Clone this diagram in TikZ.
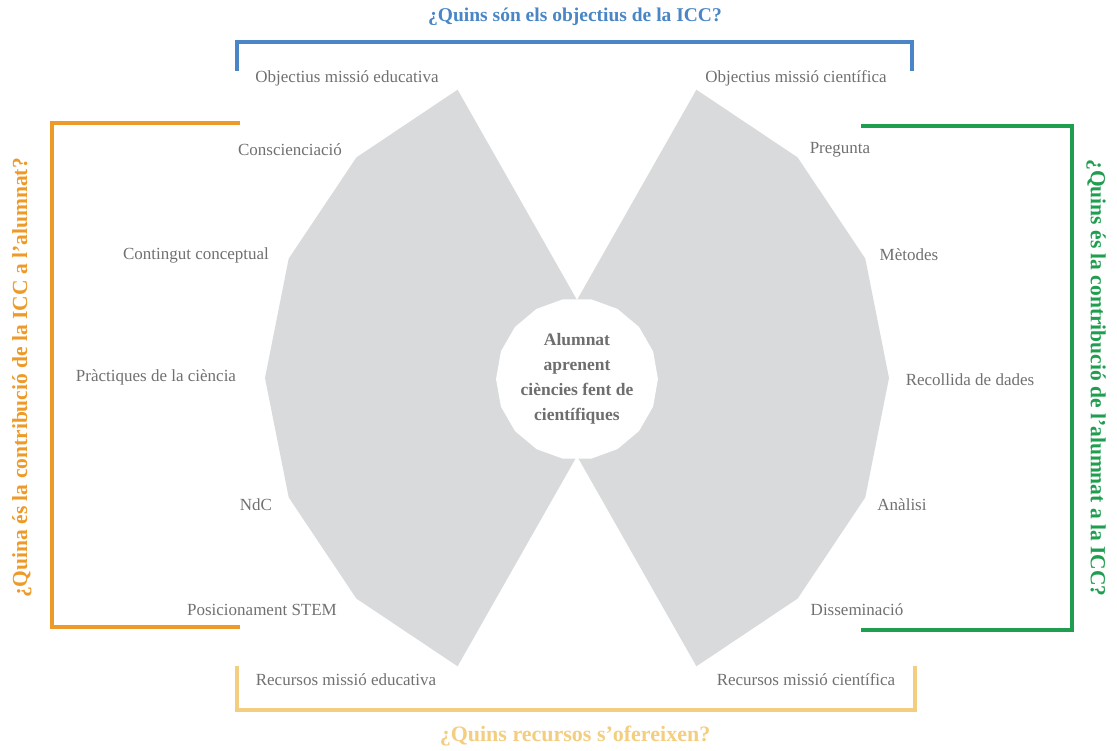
\documentclass[tikz,border=0pt]{standalone}
\usepackage{fontspec}
\setmainfont{Liberation Serif}
\usetikzlibrary{shapes.geometric}
\definecolor{fangray}{HTML}{D9DADB}
\definecolor{labelgray}{HTML}{707070}
\definecolor{hubgray}{HTML}{6E6E6E}
\definecolor{qblue}{HTML}{4A86C5}
\definecolor{qorange}{HTML}{EE9A28}
\definecolor{qgreen}{HTML}{1E9E4E}
\definecolor{qyellow}{HTML}{F4CE80}
\begin{document}
\begin{tikzpicture}[x=1pt,y=-1pt,
  lbl/.style={text=labelgray,font=\fontsize{17}{20}\selectfont,inner sep=0pt},
  question/.style={font=\bfseries\fontsize{19.5}{22}\selectfont,inner sep=0pt},
  sidequestion/.style={font=\bfseries\fontsize{21.5}{24}\selectfont,inner sep=0pt},
  bracket/.style={line width=3.2pt,line cap=butt,line join=miter}]
\useasboundingbox (0,0) rectangle (1117,751);

% grey fan: a 16-gon with the top and bottom wedges cut out
\fill[fangray] (457.6,89.7) -- (356.4,157.4) -- (288.7,258.6) -- (265,378)
  -- (288.7,497.4) -- (356.4,598.6) -- (457.6,666.3) -- (577,456)
  -- (696.4,666.3) -- (797.6,598.6) -- (865.3,497.4) -- (889,378)
  -- (865.3,258.6) -- (797.6,157.4) -- (696.4,89.7) -- (577,300) -- cycle;

% central hub
\node[regular polygon,regular polygon sides=18,fill=white,minimum size=158pt,inner sep=0pt,
  align=center,text=hubgray,font=\bfseries\fontsize{17.5}{25}\selectfont] (hub) at (577,379)
  {Alumnat\\aprenent\\ciències fent de\\científiques};

% brackets
\draw[bracket,qblue] (237,71) -- (237,42) -- (912,42) -- (912,71);
\draw[bracket,qorange] (240,123) -- (52,123) -- (52,627) -- (240,627);
\draw[bracket,qgreen] (861,126) -- (1072,126) -- (1072,630) -- (861,630);
\draw[bracket,qyellow] (237,666) -- (237,710) -- (915,710) -- (915,666);

% questions
\node[question,text=qblue] (qtop) at (575,17) {¿Quins són els objectius de la ICC?};
\node[sidequestion,text=qorange,rotate=90] (qleft) at (22,378) {¿Quina és la contribució de la ICC a l’alumnat?};
\node[sidequestion,text=qgreen,rotate=-90] (qright) at (1096,378) {¿Quins és la contribució de l’alumnat a la ICC?};
\node[question,text=qyellow,font=\bfseries\fontsize{22}{24}\selectfont] (qbottom) at (575,736) {¿Quins recursos s’ofereixen?};

% labels
\node[lbl] (oedu) at (347,78) {Objectius missió educativa};
\node[lbl] (ocie) at (796,78) {Objectius missió científica};
\node[lbl] (consc) at (290,150) {Conscienciació};
\node[lbl] (cont) at (196,255) {Contingut conceptual};
\node[lbl] (prac) at (156,377) {Pràctiques de la ciència};
\node[lbl] (ndc) at (256,505) {NdC};
\node[lbl] (stem) at (262,610) {Posicionament STEM};
\node[lbl] (redu) at (346,680) {Recursos missió educativa};
\node[lbl] (rcie) at (806,680) {Recursos missió científica};
\node[lbl] (preg) at (840,150) {Pregunta};
\node[lbl] (meto) at (909,255) {Mètodes};
\node[lbl] (recol) at (970,380) {Recollida de dades};
\node[lbl] (anal) at (902,505) {Anàlisi};
\node[lbl] (diss) at (857,610) {Disseminació};
\end{tikzpicture}
\end{document}
